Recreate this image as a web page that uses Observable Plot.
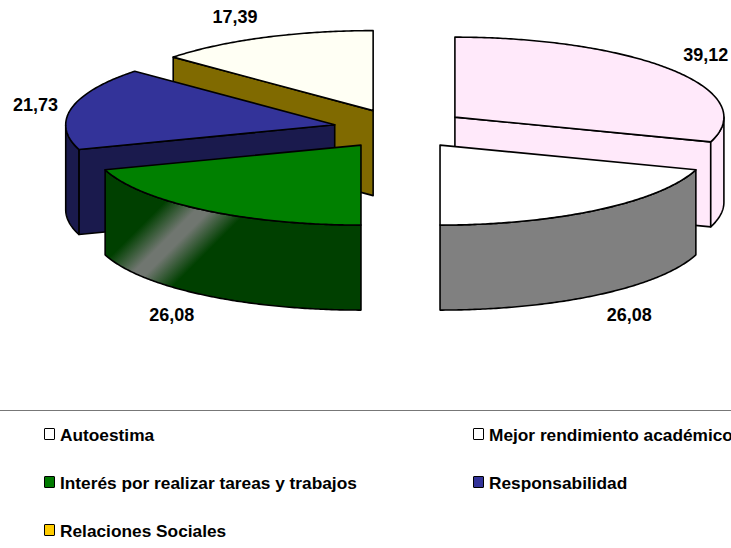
<!DOCTYPE html>
<html>
<head>
<meta charset="utf-8">
<script src="https://cdn.jsdelivr.net/npm/d3@7"></script>
<script src="https://cdn.jsdelivr.net/npm/@observablehq/plot@0.6"></script>
<style>
  html, body { margin: 0; padding: 0; background: #fff; width: 731px; height: 548px; overflow: hidden; }
  #legend { position: relative; width: 731px; height: 136px; border-top: 1.5px solid #777; overflow: hidden;
            font: bold 17.3px "Liberation Sans", Arial, sans-serif; color: #000; }
  .item { position: absolute; white-space: nowrap; height: 18px; line-height: 18px; }
  .sw { position: absolute; left: 0; top: 1px; width: 9px; height: 10px; border: 1.5px solid #000; border-radius: 1px; }
  .tx { position: absolute; left: 16px; top: -1px; }
</style>
</head>
<body>
<div id="chart"></div>
<div id="legend"></div>
<script>
const categories = ["Autoestima", "Mejor rendimiento académico", "Interés por realizar tareas y trabajos", "Responsabilidad", "Relaciones Sociales"];
const values = [39.12, 26.08, 26.08, 21.73, 17.39];
const valueLabels = ["39,12", "26,08", "26,08", "21,73", "17,39"];
const topColors = ["#FFE9FA", "#FFFFFF", "#008000", "#333399", "#FFFFF4"];
const wallColors = ["#FFE9FA", "#808080", "url(#gleam)", "#1A1A4D", "#806A00"];
const legendColors = ["#FFFFFF", "#FFFFFF", "#007A00", "#333399", "#FFCC00"];
const drawOrder = [0, 4, 3, 1, 2];

// pie layout
const W = 731, H = 410;
const cx = 400, cy = 128.4, rx = 269, ry = 80, depth = 85, explode = 0.25;
const labelRx = 315, labelRy = 103;
const labelNudge = [[-4, -1], [4, 2], [-4, 2], [9, 2], [-10, 1]];

const total = d3.sum(values);
const TAU = Math.PI * 2;
let acc = 0;
const slices = values.map((v, i) => {
  const a0 = acc / total * TAU; acc += v;
  const a1 = acc / total * TAU;
  const mid = (a0 + a1) / 2;
  return {i, a0, a1, mid,
    ox: cx + explode * rx * Math.sin(mid),
    oy: cy - explode * ry * Math.cos(mid)};
});
const rim = (s, a, z = 0) => ({x: s.ox + rx * Math.sin(a), y: s.oy - ry * Math.cos(a) + z});
const arc = (s, a0, a1, z = 0) => {
  const n = Math.max(2, Math.ceil(Math.abs(a1 - a0) / 0.01));
  return d3.range(n + 1).map(k => rim(s, a0 + (a1 - a0) * k / n, z));
};
const polygon = (pts, fill) => Plot.line(pts, {x: "x", y: "y", curve: "linear-closed", fill, stroke: "#000", strokeWidth: 1.6});

const marks = [
  () => {
    const svgNS = "http://www.w3.org/2000/svg";
    const defs = document.createElementNS(svgNS, "defs");
    const g = document.createElementNS(svgNS, "linearGradient");
    g.setAttribute("id", "gleam");
    g.setAttribute("gradientUnits", "userSpaceOnUse");
    g.setAttribute("x1", 150); g.setAttribute("y1", 216);
    g.setAttribute("x2", 196); g.setAttribute("y2", 262);
    [[0, "#004000"], [0.42, "#707670"], [0.58, "#707670"], [1, "#004000"]].forEach(([o, c]) => {
      const st = document.createElementNS(svgNS, "stop");
      st.setAttribute("offset", o); st.setAttribute("stop-color", c);
      g.appendChild(st);
    });
    defs.appendChild(g);
    return defs;
  }
];

for (const i of drawOrder) {
  const s = slices[i];
  const c = {x: s.ox, y: s.oy};
  // radial cut face that turns toward the viewer
  const cut = s.a1 > Math.PI / 2 && s.a1 < Math.PI ? s.a1 : (s.a0 > Math.PI ? s.a0 : null);
  if (cut !== null) {
    const p = rim(s, cut), q = rim(s, cut, depth);
    marks.push(polygon([c, p, q, {x: c.x, y: c.y + depth}], wallColors[i]));
  }
  // outer wall: the part of the rim that faces the viewer
  const w0 = Math.max(s.a0, Math.PI / 2), w1 = Math.min(s.a1, 1.5 * Math.PI);
  if (w1 > w0) {
    marks.push(polygon([...arc(s, w0, w1), ...arc(s, w1, w0, depth)], wallColors[i]));
  }
  // top face
  marks.push(polygon([c, ...arc(s, s.a0, s.a1)], topColors[i]));
}

const labelRows = slices.map(s => {
  const front = Math.cos(s.mid) < 0;
  return {
    x: s.ox + labelRx * Math.sin(s.mid) + labelNudge[s.i][0],
    y: s.oy - labelRy * Math.cos(s.mid) + (front ? depth : 0) + labelNudge[s.i][1],
    text: valueLabels[s.i]
  };
});
marks.push(Plot.text(labelRows, {x: "x", y: "y", text: "text", fontFamily: "Liberation Sans", fontWeight: "bold", fontSize: 18, fill: "#000"}));

const chart = Plot.plot({
  width: W, height: H,
  margin: 0,
  x: {domain: [0, W], range: [0, W], axis: null},
  y: {domain: [0, H], range: [0, H], axis: null},
  style: {background: "transparent", overflow: "visible"},
  marks
});
document.getElementById("chart").appendChild(chart);
chart.style.display = "block";

// legend
const legend = document.getElementById("legend");
const cols = [44, 473], rows = [16, 64, 112];
categories.forEach((name, i) => {
  const item = document.createElement("div");
  item.className = "item";
  item.style.left = cols[i % 2] + "px";
  item.style.top = rows[Math.floor(i / 2)] + "px";
  const sw = document.createElement("span");
  sw.className = "sw"; sw.style.background = legendColors[i];
  const tx = document.createElement("span");
  tx.className = "tx"; tx.textContent = name;
  item.append(sw, tx);
  legend.appendChild(item);
});
</script>
</body>
</html>
